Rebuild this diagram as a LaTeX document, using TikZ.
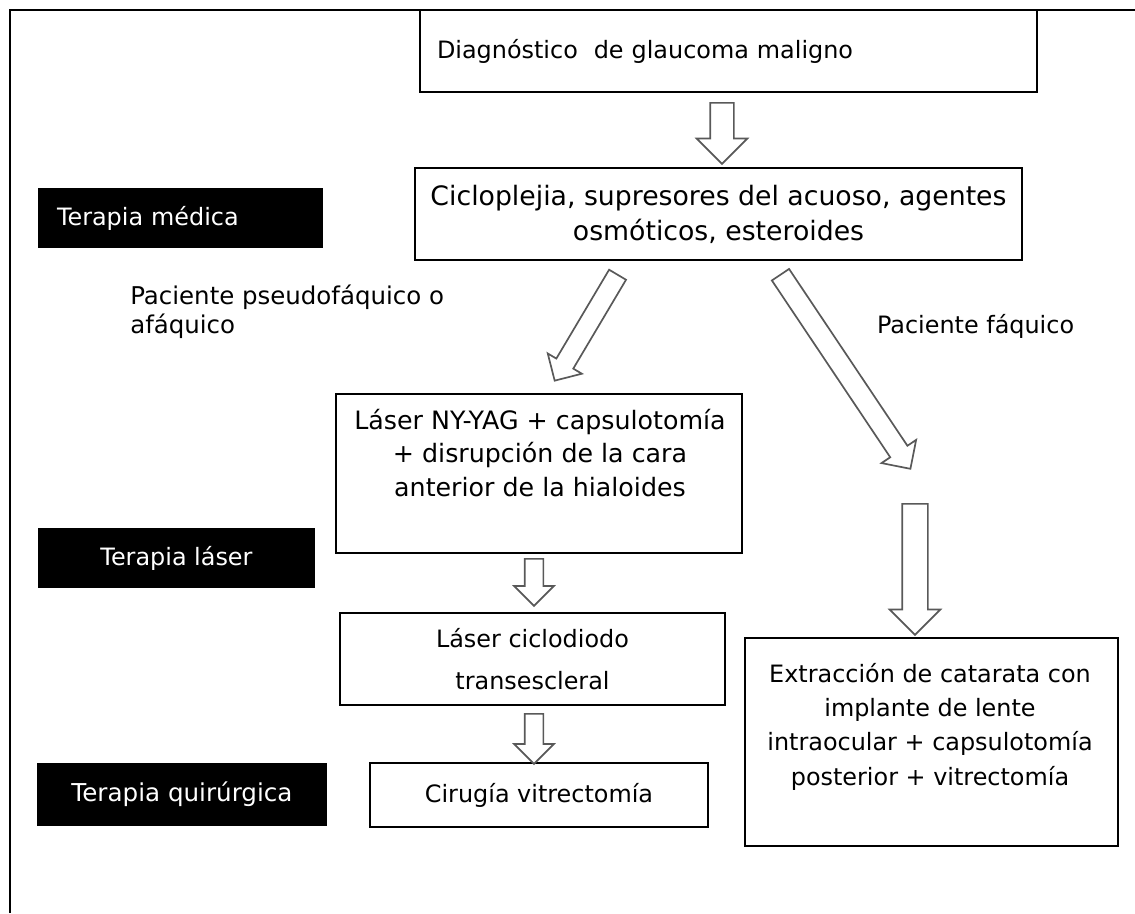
\documentclass[tikz,border=0pt]{standalone}
\usepackage{fontspec}
\setmainfont{DejaVu Sans}
\usetikzlibrary{positioning, shapes.arrows, calc}

\begin{document}
\begin{tikzpicture}[
  every node/.style={font=\fontsize{17}{24.5}\selectfont},
  caja/.style={draw=black, line width=0.9pt, fill=white, inner sep=0pt, align=center},
  etiqueta/.style={fill=black, text=white, inner sep=0pt, align=center},
  texto/.style={inner sep=0pt, align=center},
  flecha/.style 2 args={single arrow, draw=black!65, fill=white, line width=1.2pt,
    inner xsep=0pt, inner ysep=#1, minimum width=0pt,
    single arrow head extend=#2, single arrow tip angle=90, anchor=tail}
]
  \useasboundingbox (0,0) rectangle (28.375,-22.825);

  % --- Marco ---
  \draw[line width=1.2pt] (0.25,-22.825) -- (0.25,-0.25) -- (28.375,-0.25);

  % --- Cajas del flujo ---
  \node[caja, minimum width=15.425cm, minimum height=2.05cm, text width=14.575cm, align=left]
    (diag) at (18.2125,-1.275) {Diagnóstico\ \ de glaucoma maligno};
  \node[caja, minimum width=15.175cm, minimum height=2.3cm, font=\fontsize{19}{25}\selectfont]
    (trat) at (17.9625,-5.35) {Cicloplejia, supresores del acuoso, agentes\\osmóticos, esteroides};

  \node[caja, minimum width=10.15cm, minimum height=3.975cm] (yag) at (13.475,-11.8375) {};
  \node[texto, font=\fontsize{18}{23.8}\selectfont] (yagtxt) at (13.5,-11.325)
    {Láser NY-YAG + capsulotomía\\+ disrupción de la cara\\anterior de la hialoides};

  \node[caja, minimum width=9.625cm, minimum height=2.3cm, font=\fontsize{17}{30}\selectfont]
    (ciclo) at (13.3125,-16.475) {Láser ciclodiodo\\transescleral};
  \node[caja, minimum width=8.45cm, minimum height=1.6cm]
    (vitre) at (13.475,-19.875) {Cirugía vitrectomía};

  \node[caja, minimum width=9.325cm, minimum height=5.2cm] (cata) at (23.2875,-18.55) {};
  \node[texto, font=\fontsize{17}{24.4}\selectfont] (catatxt) at (23.25,-18.1625)
    {Extracción de catarata con\\implante de lente\\intraocular + capsulotomía\\posterior + vitrectomía};

  % --- Etiquetas negras ---
  \node[etiqueta, minimum width=7.125cm, minimum height=1.5cm, text width=6.175cm, align=left]
    (medica) at (4.5125,-5.45) {Terapia médica};
  \node[etiqueta, minimum width=6.925cm, minimum height=1.5cm] (laser) at (4.4125,-13.95) {Terapia láser};
  \node[etiqueta, minimum width=7.25cm, minimum height=1.575cm, font=\fontsize{17.5}{22}\selectfont]
    (quir) at (4.55,-19.8625) {Terapia quirúrgica};

  % --- Ramas ---
  \node[texto, align=left, anchor=west, font=\fontsize{17.4}{20.6}\selectfont]
    (pseudo) at (3.25,-7.8) {Paciente pseudofáquico o\\afáquico};
  \node[texto] (faquico) at (24.39,-8.15) {Paciente fáquico};

  % --- Flechas huecas ---
  \node[flecha={0.275cm}{0.3375cm}, minimum height=1.525cm, rotate=-90] (f1) at (18.05,-2.55) {};
  \node[flecha={0.225cm}{0.25cm}, minimum height=3.08cm, rotate=-120.7] (fL) at (15.45,-6.85) {};
  \node[flecha={0.2375cm}{0.2625cm}, minimum height=5.84cm, rotate=-56.2] (fR) at (19.5,-6.85) {};
  \node[flecha={0.2125cm}{0.2625cm}, minimum height=1.175cm, rotate=-90] (f2) at (13.35,-13.95) {};
  \node[flecha={0.2125cm}{0.2625cm}, minimum height=1.25cm, rotate=-90] (f3) at (13.35,-17.825) {};
  \node[flecha={0.3cm}{0.3125cm}, minimum height=3.275cm, rotate=-90] (f4) at (22.875,-12.575) {};
\end{tikzpicture}
\end{document}
